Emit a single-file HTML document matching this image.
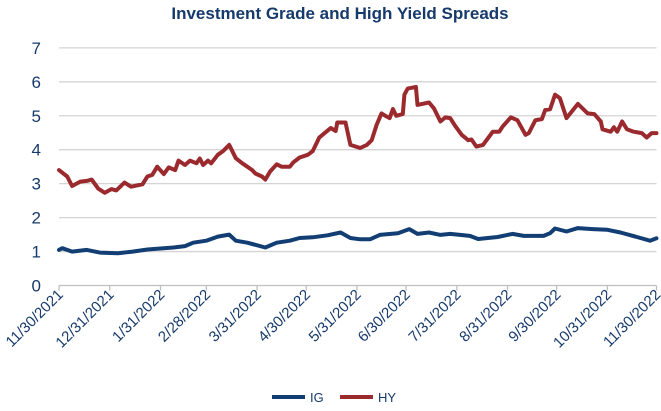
<!DOCTYPE html>
<html><head><meta charset="utf-8"><style>
body{margin:0;background:#fff;width:661px;height:406px;overflow:hidden}
svg{font-family:"Liberation Sans Narrow","Liberation Sans",sans-serif}
</style></head><body>
<svg id="chart" width="661" height="406" viewBox="0 0 661 406">
<text x="340" y="19" text-anchor="middle" font-size="17" font-weight="bold" fill="#163a6b">Investment Grade and High Yield Spreads</text>
<g id="grid"></g><g id="axes"></g><g id="series"></g>
<g>
<line x1="272" y1="397" x2="305" y2="397" stroke="#123e73" stroke-width="4"/>
<text x="310" y="402" font-size="13" fill="#163a6b">IG</text>
<line x1="340" y1="397" x2="373" y2="397" stroke="#9b2a2e" stroke-width="4"/>
<text x="378" y="402" font-size="13" fill="#163a6b">HY</text>
</g>
</svg>
<script>
const tickLabels=["11/30/2021","12/31/2021","1/31/2022","2/28/2022","3/31/2022","4/30/2022","5/31/2022","6/30/2022","7/31/2022","8/31/2022","9/30/2022","10/31/2022","11/30/2022"];
const tickDays=[0,31,62,90,121,151,182,212,243,274,304,335,365];
const yTicks=[0,1,2,3,4,5,6,7];
const hyDays=[0,5,8,13,17,20,24,28,32,35,40,44,51,54,57,60,64,67,71,73,77,80,84,86,88,91,93,97,100,104,108,112,115,118,120,124,126,129,133,136,141,143,147,152,155,159,164,166,169,170,175,178,184,188,191,194,197,200,202,204,206,210,211,213,218,219,226,229,233,236,239,242,246,250,252,255,259,265,269,271,276,280,285,287,291,295,297,300,303,306,310,317,323,327,331,332,337,339,341,344,347,351,356,359,362,365];
const hyVals=[3.40,3.21,2.93,3.06,3.08,3.12,2.85,2.73,2.84,2.80,3.03,2.91,2.98,3.21,3.26,3.50,3.28,3.48,3.40,3.68,3.55,3.68,3.60,3.74,3.55,3.68,3.60,3.85,3.95,4.14,3.75,3.60,3.50,3.40,3.30,3.21,3.12,3.36,3.57,3.50,3.50,3.62,3.77,3.85,3.96,4.36,4.56,4.64,4.55,4.80,4.80,4.14,4.05,4.14,4.28,4.73,5.07,4.98,4.93,5.20,5.00,5.05,5.62,5.80,5.85,5.32,5.39,5.22,4.83,4.95,4.93,4.70,4.44,4.28,4.30,4.09,4.14,4.53,4.53,4.68,4.95,4.87,4.44,4.49,4.87,4.90,5.17,5.19,5.62,5.52,4.93,5.35,5.07,5.05,4.83,4.60,4.53,4.66,4.53,4.83,4.60,4.53,4.49,4.36,4.49,4.49];
const igDays=[0,2,8,17,25,36,45,54,62,70,77,82,90,97,104,108,115,126,133,141,147,155,164,172,178,184,190,196,207,214,219,226,233,239,251,256,268,277,284,296,300,303,310,317,326,335,343,353,361,365];
const igVals=[1.05,1.10,1.00,1.05,0.97,0.95,1.00,1.06,1.09,1.12,1.16,1.26,1.32,1.44,1.50,1.32,1.26,1.12,1.26,1.32,1.40,1.42,1.48,1.56,1.40,1.36,1.36,1.49,1.54,1.66,1.52,1.56,1.49,1.52,1.46,1.37,1.43,1.52,1.46,1.46,1.54,1.68,1.59,1.69,1.66,1.64,1.56,1.43,1.32,1.39];
const NS="http://www.w3.org/2000/svg";
const X0=59,X1=656.5,Y0=285.5,YU=33.95;
function xs(d){return X0+(X1-X0)*d/365;}
function ys(v){return Y0-v*YU;}
function mk(t,a,p){const e=document.createElementNS(NS,t);for(const k in a)e.setAttribute(k,a[k]);p.appendChild(e);return e;}
const grid=document.getElementById('grid'),axes=document.getElementById('axes'),ser=document.getElementById('series');
yTicks.forEach(v=>{
 if(v>0){const g=mk('line',{x1:X0,x2:X1,y1:ys(v),y2:ys(v),stroke:'#d4d4d4','stroke-width':1.3},grid);
 
 }
 const t=mk('text',{x:41,y:ys(v)+6,'text-anchor':'end','font-size':17,fill:'#163a6b'},axes);t.textContent=v;
 
 
});
const ax=mk('line',{x1:X0,x2:X1,y1:Y0,y2:Y0,stroke:'#bfbfbf','stroke-width':1.3},axes);


tickLabels.forEach((lab,i)=>{
 const x=xs(tickDays[i]);
 const tk=mk('line',{x1:x,x2:x,y1:Y0,y2:Y0+5,stroke:'#bfbfbf','stroke-width':1.3},axes);
 
 
 const t=mk('text',{x:x+5,y:Y0+10,'text-anchor':'end','font-size':15,fill:'#163a6b',transform:`rotate(-45 ${x+5} ${Y0+10})`},axes);
 t.textContent=lab;
 
 
});
function line(days,vals,col,name){
 const d=days.map((dd,i)=>(i?'L':'M')+xs(dd).toFixed(1)+','+ys(vals[i]).toFixed(1)).join('');
 const p=mk('path',{d:d,fill:'none',stroke:col,'stroke-width':4,'stroke-linejoin':'round','stroke-linecap':'round'},ser);
 
 
}
line(igDays,igVals,'#123e73','ig-line');
line(hyDays,hyVals,'#9b2a2e','hy-line');
</script>
</body></html>
